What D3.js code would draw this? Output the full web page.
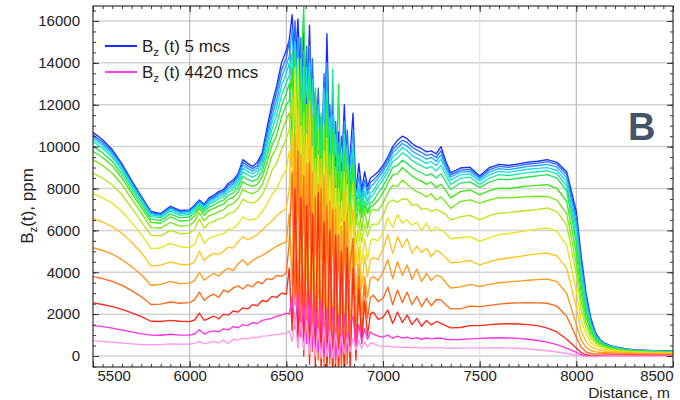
<!DOCTYPE html>
<html>
<head>
<meta charset="utf-8">
<script src="https://cdn.jsdelivr.net/npm/d3@7"></script>
<style>
  body { margin: 0; background: #fff; }
  svg text { font-family: "Liberation Sans", Arial, sans-serif; }
</style>
</head>
<body>
<svg id="chart" width="680" height="400"></svg>
<script>
// distance grid, m (finer steps where the profile is noisy)
const distance = [
  5500,5550,5600,5650,5700,5750,5800,5850,5900,5950,6000,
  6025,6050,6075,6100,6125,6150,6175,6200,6225,6250,6275,6300,6325,6350,6375,6400,6425,6450,6475,6500,
  6515,6530,6545,6560,6575,6590,6605,6620,6635,6650,6665,6680,6695,6710,6725,6740,6755,6770,6785,6800,
  6815,6830,6845,6860,6875,6890,6905,6920,6935,6950,
  6975,7000,7025,7050,7075,7100,7125,7150,7175,7200,7225,7250,7275,7300,7325,7350,
  7400,7450,7500,7550,7600,7650,7700,7750,7800,7850,7900,7950,8000,
  8025,8050,8075,8100,8125,8150,8175,8200,8250,8300,8400,8500
];

// Bz(t), ppm - one array per time channel, earliest (5 mcs) first
const ch01 = [
  10680,10330,9850,9180,8380,7620,6900,6800,7150,6950,6980,
  7200,7450,7250,7550,7680,7850,7950,8250,8400,8700,9380,9200,9050,9250,9700,10900,12000,12900,14000,14600,
  15100,16300,13600,16100,12400,15500,11200,15800,10200,12600,9600,11400,9200,15400,9400,12200,8800,10700,8600,12000,8200,9600,11600,7800,9200,7900,8800,8100,8500,8600,
  8800,9100,9500,10000,10300,10500,10380,10150,10000,9900,9750,9800,9650,10000,9300,8750,
  8980,9020,8600,9000,9150,9100,9180,9260,9300,9380,9250,8800,6900,
  4800,3000,1800,1100,750,600,500,430,350,290,260,240
];
const ch02 = [
  10560,10220,9750,9100,8300,7560,6850,6760,7100,6900,6940,
  7150,7400,7200,7480,7600,7780,7880,8150,8300,8600,9250,9080,8950,9100,9550,10650,11700,12600,13650,14250,
  15000,12800,16000,11800,15200,10800,14800,10000,14200,9500,12800,9000,13500,8800,12000,9200,11200,8500,10500,8600,10800,8000,9800,8200,8600,7800,8400,7900,8300,8400,
  8650,8950,9350,9850,10100,10300,10200,9980,9830,9720,9580,9640,9480,9800,9150,8650,
  8880,8920,8540,8900,9060,9010,9090,9170,9210,9280,9150,8680,6650,
  4550,2850,1700,1050,720,580,480,420,340,280,250,230
];
const ch03 = [
  10480,10140,9680,9030,8240,7500,6800,6720,7060,6860,6900,
  7100,7350,7150,7420,7540,7700,7800,8060,8200,8500,9120,8960,8830,8980,9400,10400,11400,12250,13300,13900,
  14300,15600,12000,15200,11000,14600,10000,14800,9200,12000,8800,11000,8400,14000,8600,11500,8000,10200,7800,11200,7600,9000,10800,7400,8600,7500,8300,7700,8100,8200,
  8500,8800,9200,9700,9920,10150,10020,9800,9650,9540,9400,9480,9300,9600,9000,8550,
  8780,8820,8460,8790,8950,8900,8980,9060,9100,9150,9020,8520,6350,
  4300,2700,1600,1000,700,560,470,410,330,270,240,220
];
const ch04 = [
  10370,10040,9590,8950,8170,7440,6740,6670,7000,6800,6840,
  7040,7300,7080,7340,7460,7610,7700,7960,8080,8380,8980,8820,8700,8840,9230,10150,11100,11900,12900,13500,
  14000,11000,15000,10200,14200,9600,13800,9000,13200,8600,12000,8200,12800,8000,11400,8300,10500,7800,9800,7900,10000,7400,9200,7600,8100,7300,7900,7400,7800,7900,
  8300,8600,9000,9500,9700,9950,9800,9580,9450,9330,9200,9280,9100,9400,8830,8400,
  8650,8700,8350,8660,8820,8770,8850,8920,8960,9000,8860,8330,6050,
  4000,2500,1500,950,680,540,460,400,320,260,230,210
];
const ch05 = [
  10240,9920,9480,8850,8090,7360,6660,6600,6920,6720,6760,
  6960,7250,7000,7250,7360,7500,7590,7840,7950,8240,8800,8650,8540,8670,9050,9900,10800,11500,12450,13050,
  13400,14500,10800,14200,9800,13800,9000,14000,8400,11200,8000,10400,7800,12600,8000,13700,7400,9600,7200,10600,7000,8400,10000,6900,8000,7000,7800,7200,7600,7700,
  8100,8400,8800,9280,9450,9700,9560,9340,9200,9080,8960,9050,8850,9100,8620,8200,
  8480,8540,8200,8500,8660,8620,8690,8760,8800,8850,8700,8120,5750,
  3700,2300,1400,900,650,520,440,380,300,250,220,200
];
const ch06 = [
  10010,9700,9290,8680,7940,7230,6530,6480,6790,6600,6640,
  6840,7150,6880,7120,7220,7350,7440,7680,7780,8050,8580,8440,8340,8450,8820,9600,10450,11050,11950,12550,
  13000,10400,14600,9400,13400,16700,8600,13400,8000,12800,7600,11600,7400,12200,7600,10800,7000,13000,6800,9200,9500,7000,8800,7200,7700,6800,7400,6900,7300,7400,
  7800,8100,8550,9000,9100,9350,9200,9000,8850,8740,8620,8700,8500,8700,8330,7950,
  8260,8320,8050,8300,8450,8420,8490,8550,8600,8660,8500,7880,5400,
  3400,2100,1300,850,620,500,420,360,290,240,210,190
];
const ch07 = [
  9780,9480,9080,8500,7780,7080,6380,6340,6640,6450,6480,
  6680,7050,6720,6950,7040,7170,7250,7480,7570,7820,8320,8180,8100,8200,8550,9250,10050,10550,11400,12000,
  12200,13600,9600,13200,8800,12600,8200,12800,7600,10400,7200,9800,7000,11600,7200,10600,6600,8800,6400,9800,6400,7800,9200,6400,7400,6600,7200,6800,7100,7200,
  7450,7800,8250,8650,8700,9000,8800,8600,8450,8350,8200,8300,8050,8200,7900,7550,
  7850,7930,7700,7900,8020,8000,8060,8110,8150,8180,8000,7380,4900,
  3000,1850,1150,780,580,470,400,340,270,230,200,180
];
const ch08 = [
  9380,9100,8730,8190,7510,6830,6130,6100,6380,6200,6230,
  6420,6850,6460,6700,6780,6900,6980,7200,7270,7500,7950,7830,7760,7860,8180,8800,9550,9950,10700,11300,
  11600,9000,13400,8400,12200,7800,12000,7200,11400,6800,10800,6600,11000,6400,9600,6800,9000,6200,8800,6400,9200,6000,8400,6200,7200,6000,7000,6100,6900,7000,
  6950,7300,7800,8150,8100,8400,8200,8000,7850,7750,7600,7750,7450,7600,7350,7050,
  7380,7460,7300,7450,7560,7550,7580,7610,7630,7620,7450,6800,4400,
  2600,1600,1000,700,530,430,370,320,250,210,190,170
];
const ch09 = [
  8740,8500,8170,7700,7070,6420,5760,5740,6000,5840,5870,
  6050,6550,6100,6350,6420,6550,6600,6800,6860,7080,7480,7360,7300,7420,7700,8200,8850,9200,9850,10400,
  10800,12400,8000,14200,7400,11600,6800,12000,6400,9400,6000,9000,5800,10400,6000,9600,5400,8000,5200,8800,5200,6800,8200,5300,6500,5400,6300,5700,6200,6300,
  6300,6700,7300,7450,7350,7500,7500,7200,7250,7000,7050,6900,7000,6900,6750,6500,
  6650,6720,6500,6700,6820,6850,6900,6950,7000,7070,6900,6250,3900,
  2200,1350,850,600,470,390,330,290,230,200,170,160
];
const ch10 = [
  7750,7560,7290,6900,6380,5800,5130,5160,5380,5220,5170,
  5330,5900,5380,5620,5700,5800,5830,6050,6080,6300,6650,6520,6500,6600,6900,7250,7700,8000,8500,8900,
  9800,7000,13800,6400,11000,5800,10600,5200,10000,4800,9600,4600,9800,4400,8600,4800,8000,4200,7400,4400,8200,4000,7200,4300,6000,4400,5600,4600,5500,5600,
  5500,5900,6600,6150,6750,6350,6500,6250,6400,6000,6350,5950,6150,6030,5850,5600,
  5650,5700,5470,5650,5800,5850,5920,6000,6060,6110,5950,5300,3100,
  1700,1050,650,480,380,320,280,250,200,180,150,140
];
const ch11 = [
  6555,6400,6180,5860,5420,4940,4300,4340,4500,4380,4350,
  4500,5000,4560,4780,4900,4850,5000,5200,5150,5450,5700,5550,5650,5800,6000,6250,6450,6700,6900,7050,
  8000,10800,5200,11800,4400,10200,3600,12200,3200,8800,2800,9400,2400,9000,2600,8800,2200,7200,2000,7800,2200,5800,7000,2600,5200,3200,4800,3800,4600,4700,
  4600,5100,5800,4900,5700,5200,5600,4900,5250,4950,5150,4750,5050,4910,4700,4450,
  4480,4560,4350,4500,4620,4680,4750,4820,4880,4910,4780,4200,2300,
  1200,700,450,330,280,240,220,200,170,150,130,120
];
const ch12 = [
  5170,5040,4860,4600,4270,3880,3380,3420,3560,3460,3480,
  3600,4000,3620,3800,3950,3820,4050,4200,4080,4400,4600,4350,4550,4700,4800,4950,5100,5250,5350,5450,
  6800,3400,10400,2400,9600,1800,9200,1200,8800,1000,8200,800,8600,600,7400,800,7000,400,6200,600,6800,800,5600,1400,4400,2000,3800,2800,3700,3800,
  3600,4000,4600,3700,4500,3850,4350,3650,4150,3550,3950,3600,3850,3790,3500,3250,
  3300,3420,3320,3420,3500,3540,3580,3620,3650,3670,3550,3000,1500,
  750,420,260,200,180,170,160,150,130,110,100,90
];
const ch13 = [
  3795,3700,3560,3370,3120,2830,2460,2480,2580,2520,2550,
  2680,3050,2650,2850,2950,2800,3150,3050,3250,3350,3200,3400,3300,3550,3450,3700,3650,3850,3800,3980,
  5400,8800,2400,9800,1400,8600,600,9200,200,7600,-200,8000,-500,7200,-400,7000,-600,5800,-800,6400,-400,4400,5600,200,3800,1000,3400,1800,2800,2900,
  2600,2750,3300,2450,3150,2550,3050,2450,2850,2350,2750,2400,2700,2680,2450,2250,
  2250,2380,2360,2420,2480,2520,2540,2550,2540,2520,2380,1900,900,
  420,200,120,90,100,110,100,90,80,70,60,60
];
const ch14 = [
  2535,2460,2360,2230,2060,1880,1660,1650,1700,1660,1640,
  1720,2050,1700,1800,1900,1780,2000,1950,2150,2100,2300,2250,2450,2400,2650,2600,2850,2800,3000,2950,
  4200,1200,8000,400,7600,0,7200,-400,6800,-600,7800,-900,6400,-1000,6000,-1200,5800,-1000,5000,-1200,5200,-800,4200,-200,3200,600,2600,1000,2000,2100,
  1750,1850,2200,1550,2100,1600,1950,1500,1800,1420,1700,1480,1650,1560,1450,1340,
  1360,1450,1450,1500,1530,1540,1530,1500,1450,1330,1150,800,380,
  160,60,20,0,20,40,40,40,30,30,20,20
];
const ch15 = [
  1450,1400,1330,1240,1150,1060,1000,990,1040,1000,1000,
  1050,1250,1050,1150,1200,1150,1300,1250,1400,1350,1500,1450,1600,1550,1700,1750,1800,1900,1950,2050,
  2000,2800,1300,3000,900,2600,600,2900,400,2300,200,2600,0,2200,-100,2300,-200,1900,0,2000,200,1600,1900,400,1500,700,1300,800,1150,1050,
  950,900,1000,850,950,850,900,820,880,800,860,820,850,850,800,780,
  790,820,840,860,870,860,840,800,740,660,540,380,170,
  60,10,-20,-30,-10,0,10,10,10,0,0,0
];
const ch16 = [
  732,700,660,620,580,550,540,545,580,560,574,
  600,700,580,640,700,620,760,600,800,760,850,820,900,880,950,960,1000,1020,1050,1080,
  1200,700,1800,400,1600,300,1700,100,1500,0,1300,-100,1400,0,1200,-100,1100,0,950,100,900,200,850,300,750,350,680,420,620,600,
  500,450,480,420,450,400,430,390,420,380,410,390,400,400,380,370,
  380,380,380,390,400,390,370,340,300,250,190,120,50,
  10,-20,-30,-30,-20,-10,0,0,0,-10,-10,-10
];

const channels = [ch01, ch02, ch03, ch04, ch05, ch06, ch07, ch08,
                  ch09, ch10, ch11, ch12, ch13, ch14, ch15, ch16];
const channelColors = [
  "#1a2cff", "#2a6bff", "#1fa8ff", "#1ad6f0", "#19e6a8", "#22e655", "#3ee61a", "#78e61a",
  "#b4e61a", "#e8e21a", "#ffc21a", "#ff9a1a", "#ff6a1a", "#ff2a1a", "#ff33dd", "#ff99ee"
];
const legendLabels = ["5 mcs", "4420 mcs"];
const xTicks = [5500, 6000, 6500, 7000, 7500, 8000, 8500];
const yTicks = [0, 2000, 4000, 6000, 8000, 10000, 12000, 14000, 16000];

channels.forEach((c, i) => {
  if (c.length !== distance.length) throw new Error("channel " + (i + 1) + " has " + c.length + " points");
});

const margin = { top: 6, right: 7, bottom: 33, left: 93 };
const width = 680, height = 400;
const innerW = width - margin.left - margin.right;
const innerH = height - margin.top - margin.bottom;

const svg = d3.select("#chart");
svg.append("rect").attr("width", width).attr("height", height).attr("fill", "#fff");

const x = d3.scaleLinear().domain([5500, 8500]).range([0, innerW]);
const y = d3.scaleLinear().domain([-525, 16716]).range([innerH, 0]);

const g = svg.append("g").attr("transform", `translate(${margin.left},${margin.top})`);

g.append("clipPath").attr("id", "plot-clip")
  .append("rect").attr("width", innerW).attr("height", innerH);

// grid
g.append("g").selectAll("line").data(yTicks).join("line")
  .attr("x1", 0).attr("x2", innerW)
  .attr("y1", d => y(d)).attr("y2", d => y(d))
  .attr("stroke", "#d2d2d2").attr("stroke-width", 1.5);
g.append("g").selectAll("line").data(xTicks.slice(1, -1)).join("line")
  .attr("x1", d => x(d)).attr("x2", d => x(d))
  .attr("y1", 0).attr("y2", innerH)
  .attr("stroke", d => d === 7500 ? "#e4e4e4" : "#bcbcbc").attr("stroke-width", 1.2);

// curves
const line = d3.line()
  .x((d, i) => x(distance[i]))
  .y(d => y(d));

g.append("g").attr("clip-path", "url(#plot-clip)")
  .selectAll("path").data(channels).join("path")
  .attr("d", line)
  .attr("fill", "none")
  .attr("stroke", (d, i) => channelColors[i])
  .attr("stroke-width", 1.35)
  .attr("stroke-linejoin", "round");

// frame
g.append("rect").attr("width", innerW).attr("height", innerH)
  .attr("fill", "none").attr("stroke", "#333").attr("stroke-width", 1.2);

// ticks (all pointing inward)
const minorX = d3.range(5500, 8501, 50);
const minorY = d3.range(-500, 16701, 500);
const noLabel = () => "";

function styleAxis(sel) {
  sel.select(".domain").remove();
  sel.selectAll("line").attr("stroke", "#333");
  sel.attr("font-size", 15).attr("font-family", null);
  sel.selectAll("text").attr("fill", "#222");
}

g.append("g").attr("transform", `translate(0,${innerH})`)
  .call(d3.axisBottom(x).tickValues(minorX).tickFormat(noLabel).tickSize(-3)).call(styleAxis);
g.append("g").attr("transform", `translate(0,${innerH})`)
  .call(d3.axisBottom(x).tickValues(xTicks).tickFormat(d3.format("d")).tickSize(-6).tickPadding(3))
  .call(styleAxis)
  .call(s => s.selectAll("text")
    .attr("text-anchor", d => d === 5500 ? "start" : d === 8500 ? "end" : "middle")
    .attr("dx", d => d === 5500 ? 4 : 0));
g.append("g")
  .call(d3.axisTop(x).tickValues(minorX).tickFormat(noLabel).tickSize(-3)).call(styleAxis);
g.append("g")
  .call(d3.axisTop(x).tickValues(xTicks).tickFormat(noLabel).tickSize(-6)).call(styleAxis);

g.append("g")
  .call(d3.axisLeft(y).tickValues(minorY).tickFormat(noLabel).tickSize(-3)).call(styleAxis);
g.append("g")
  .call(d3.axisLeft(y).tickValues(yTicks).tickFormat(d3.format("d")).tickSize(-6).tickPadding(13))
  .call(styleAxis);
g.append("g").attr("transform", `translate(${innerW},0)`)
  .call(d3.axisRight(y).tickValues(minorY).tickFormat(noLabel).tickSize(-3)).call(styleAxis);
g.append("g").attr("transform", `translate(${innerW},0)`)
  .call(d3.axisRight(y).tickValues(yTicks).tickFormat(noLabel).tickSize(-6)).call(styleAxis);

// axis titles
svg.append("text")
  .attr("x", margin.left + innerW - 3).attr("y", 398)
  .attr("text-anchor", "end").attr("font-size", 15.5).attr("fill", "#222")
  .text("Distance, m");

const yTitle = svg.append("text")
  .attr("transform", "translate(33,206) rotate(-90)")
  .attr("text-anchor", "middle").attr("font-size", 17).attr("fill", "#222");
yTitle.append("tspan").text("B");
yTitle.append("tspan").attr("dy", 4).attr("font-size", 11.5).text("z");
yTitle.append("tspan").attr("dy", -4).text("(t), ppm");

// legend
const legend = svg.append("g").attr("transform", "translate(105,46)");
[channelColors[0], "#ff3cf0"].forEach((col, i) => {
  const row = legend.append("g").attr("transform", `translate(0,${i * 26})`);
  row.append("line").attr("x1", 0).attr("x2", 32).attr("stroke", col).attr("stroke-width", 2);
  const t = row.append("text").attr("x", 37).attr("y", 6).attr("font-size", 17).attr("fill", "#222");
  t.append("tspan").text("B");
  t.append("tspan").attr("dy", 4).attr("font-size", 11.5).text("z");
  t.append("tspan").attr("dy", -4).text(" (t) " + legendLabels[i]);
});

// panel letter
svg.append("text")
  .attr("x", 628).attr("y", 140)
  .attr("font-family", "'Open Sans', 'DejaVu Sans', sans-serif")
  .attr("font-weight", 700).attr("font-size", 38).attr("fill", "#44546a")
  .text("B");
</script>
</body>
</html>
